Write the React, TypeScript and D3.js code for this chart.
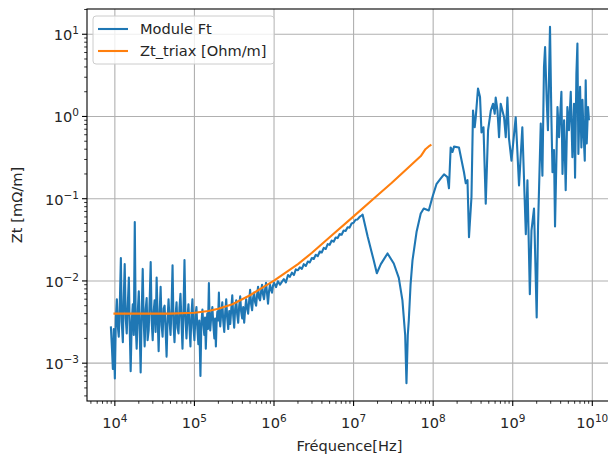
import React from 'react';
import * as d3 from 'd3';

// measured "Module Ft" trace: [frequency Hz, Zt]
const moduleFt: [number, number][] = [
  [8.91e3, 0.0028], [9.2e3, 0.0015], [9.44e3, 0.00085], [9.7e3, 0.0026], [9.85e3, 0.0012],
  [1.0e4, 0.00065], [1.03e4, 0.0035], [1.06e4, 0.006], [1.09e4, 0.0028], [1.12e4, 0.0021],
  [1.15e4, 0.0045], [1.19e4, 0.019], [1.22e4, 0.0032], [1.26e4, 0.0018], [1.29e4, 0.0055],
  [1.33e4, 0.016], [1.37e4, 0.0035], [1.41e4, 0.0023], [1.45e4, 0.0048], [1.5e4, 0.011],
  [1.54e4, 0.0025], [1.58e4, 0.0008], [1.63e4, 0.0032], [1.68e4, 0.0052], [1.73e4, 0.0022],
  [1.78e4, 0.052], [1.83e4, 0.0028], [1.88e4, 0.0015], [1.94e4, 0.0042], [2.0e4, 0.0075],
  [2.05e4, 0.0026], [2.11e4, 0.00077], [2.17e4, 0.0038], [2.24e4, 0.014], [2.3e4, 0.0034],
  [2.37e4, 0.0016], [2.44e4, 0.0045], [2.51e4, 0.0062], [2.58e4, 0.0019], [2.66e4, 0.0025],
  [2.74e4, 0.0058], [2.82e4, 0.017], [2.9e4, 0.0033], [2.99e4, 0.0019], [3.07e4, 0.0042],
  [3.16e4, 0.0058], [3.25e4, 0.0024], [3.35e4, 0.011], [3.45e4, 0.0036], [3.55e4, 0.0014],
  [3.65e4, 0.0039], [3.76e4, 0.0085], [3.87e4, 0.0029], [3.98e4, 0.0021], [4.1e4, 0.0046],
  [4.22e4, 0.005], [4.34e4, 0.0026], [4.47e4, 0.0012], [4.6e4, 0.0035], [4.73e4, 0.006],
  [4.87e4, 0.0032], [5.01e4, 0.0022], [5.16e4, 0.0048], [5.31e4, 0.0155], [5.46e4, 0.003],
  [5.62e4, 0.0018], [5.79e4, 0.0038], [5.96e4, 0.0055], [6.13e4, 0.0027], [6.31e4, 0.0023],
  [6.49e4, 0.0047], [6.68e4, 0.007], [6.88e4, 0.0031], [7.08e4, 0.0015], [7.29e4, 0.0044],
  [7.5e4, 0.018], [7.72e4, 0.0035], [7.94e4, 0.002], [8.17e4, 0.0036], [8.41e4, 0.0052],
  [8.66e4, 0.0028], [8.91e4, 0.0016], [9.17e4, 0.0039], [9.44e4, 0.006], [9.72e4, 0.0027],
  [1.0e5, 0.0019], [1.03e5, 0.0037], [1.06e5, 0.0048], [1.09e5, 0.0026], [1.12e5, 0.0017],
  [1.15e5, 0.0033], [1.19e5, 0.0007], [1.22e5, 0.0029], [1.26e5, 0.0045], [1.29e5, 0.0031],
  [1.33e5, 0.0022], [1.36e5, 0.0036], [1.39e5, 0.0015], [1.42e5, 0.0028], [1.45e5, 0.004],
  [1.48e5, 0.0026], [1.52e5, 0.0094], [1.55e5, 0.0034], [1.58e5, 0.0025], [1.63e5, 0.0038],
  [1.68e5, 0.0048], [1.73e5, 0.0029], [1.78e5, 0.002], [1.82e5, 0.0035], [1.86e5, 0.0016],
  [1.9e5, 0.0031], [1.94e5, 0.0042], [1.98e5, 0.0033], [2.03e5, 0.0072], [2.07e5, 0.0036],
  [2.11e5, 0.0028], [2.17e5, 0.004], [2.24e5, 0.0055], [2.3e5, 0.0033], [2.37e5, 0.0024],
  [2.44e5, 0.0042], [2.51e5, 0.006], [2.58e5, 0.0036], [2.66e5, 0.0026], [2.74e5, 0.0043],
  [2.82e5, 0.003], [2.9e5, 0.0045], [2.99e5, 0.0067], [3.07e5, 0.0038], [3.16e5, 0.0027],
  [3.25e5, 0.0046], [3.35e5, 0.0058], [3.45e5, 0.0039], [3.55e5, 0.0031], [3.65e5, 0.0049],
  [3.76e5, 0.0065], [3.87e5, 0.0042], [3.98e5, 0.0035], [4.1e5, 0.0048], [4.22e5, 0.0031],
  [4.34e5, 0.0045], [4.47e5, 0.006], [4.6e5, 0.0046], [4.73e5, 0.004], [4.87e5, 0.0057],
  [5.01e5, 0.0078], [5.16e5, 0.0052], [5.31e5, 0.0044], [5.46e5, 0.0062], [5.62e5, 0.0072],
  [5.79e5, 0.0055], [5.96e5, 0.005], [6.13e5, 0.0068], [6.31e5, 0.0085], [6.49e5, 0.0062],
  [6.68e5, 0.0058], [6.88e5, 0.0074], [7.08e5, 0.009], [7.29e5, 0.0068], [7.5e5, 0.006],
  [7.72e5, 0.0078], [7.94e5, 0.0095], [8.17e5, 0.0071], [8.41e5, 0.0053], [8.66e5, 0.0075],
  [8.91e5, 0.009], [9.17e5, 0.0078], [9.44e5, 0.0072], [9.72e5, 0.0088], [1.0e6, 0.0095],
  [1.06e6, 0.0084], [1.12e6, 0.0099], [1.19e6, 0.009], [1.26e6, 0.0098], [1.33e6, 0.0105],
  [1.41e6, 0.0096], [1.5e6, 0.0118], [1.58e6, 0.0112], [1.68e6, 0.0126], [1.78e6, 0.0118],
  [1.88e6, 0.0138], [2.0e6, 0.0135], [2.11e6, 0.0146], [2.24e6, 0.014], [2.37e6, 0.016],
  [2.51e6, 0.0152], [2.66e6, 0.0172], [2.82e6, 0.0168], [2.99e6, 0.019], [3.16e6, 0.0185],
  [3.35e6, 0.0208], [3.55e6, 0.02], [3.76e6, 0.0228], [3.98e6, 0.0222], [4.22e6, 0.0252],
  [4.47e6, 0.0245], [4.73e6, 0.028], [5.01e6, 0.0275], [5.31e6, 0.031], [5.62e6, 0.03],
  [5.96e6, 0.0338], [6.31e6, 0.0332], [6.68e6, 0.0372], [7.08e6, 0.0365], [7.5e6, 0.041],
  [7.94e6, 0.0405], [8.41e6, 0.045], [8.91e6, 0.0445], [9.44e6, 0.05], [1.0e7, 0.051],
  [1.06e7, 0.0555], [1.12e7, 0.056], [1.19e7, 0.06], [1.26e7, 0.0625], [1.3e7, 0.064],
  [1.5e7, 0.035], [1.79e7, 0.0178], [1.96e7, 0.0124], [2.2e7, 0.016],
  [2.67e7, 0.0216], [3.2e7, 0.0163], [3.7e7, 0.0109], [4.11e7, 0.0058], [4.45e7, 0.0022],
  [4.62e7, 0.00057], [4.8e7, 0.0022], [4.94e7, 0.0033], [5.2e7, 0.009], [5.5e7, 0.0178],
  [6.2e7, 0.04], [6.98e7, 0.066], [7.62e7, 0.076], [8.81e7, 0.072], [9.8e7, 0.105],
  [1.1e8, 0.15], [1.24e8, 0.175], [1.37e8, 0.198], [1.51e8, 0.183], [1.58e8, 0.134],
  [1.66e8, 0.42], [1.75e8, 0.37], [1.83e8, 0.43], [2.11e8, 0.42], [2.44e8, 0.21],
  [2.57e8, 0.154], [2.7e8, 0.168], [2.82e8, 0.034], [3.03e8, 0.105], [3.17e8, 1.18],
  [3.33e8, 0.74], [3.43e8, 0.98], [3.66e8, 2.19], [3.88e8, 1.73], [4.05e8, 0.64],
  [4.29e8, 0.74], [4.58e8, 0.087], [4.9e8, 0.68], [5.3e8, 1.18], [5.66e8, 1.43],
  [5.94e8, 1.08], [6.11e8, 1.7], [6.43e8, 1.18], [6.73e8, 0.56], [7.06e8, 1.43],
  [7.78e8, 0.98], [8.17e8, 0.56], [8.57e8, 1.7], [8.97e8, 0.54], [9.64e8, 0.29],
  [1.09e9, 0.98], [1.2e9, 0.145], [1.32e9, 0.74], [1.46e9, 0.037], [1.53e9, 0.168],
  [1.64e9, 0.0069], [1.72e9, 0.041], [1.85e9, 0.076], [1.89e9, 0.034], [2.0e9, 0.0036],
  [2.08e9, 0.046], [2.25e9, 0.82], [2.36e9, 0.19], [2.47e9, 4.0], [2.55e9, 7.0],
  [2.67e9, 1.6], [2.77e9, 0.68], [2.94e9, 12.3], [3.06e9, 0.98], [3.16e9, 0.21],
  [3.3e9, 0.39], [3.4e9, 0.046], [3.65e9, 1.3], [3.82e9, 0.56], [4.09e9, 2.0],
  [4.22e9, 0.2], [4.42e9, 0.9], [4.63e9, 0.127], [4.86e9, 1.3], [5.09e9, 0.68],
  [5.36e9, 2.0], [5.62e9, 0.32], [5.89e9, 1.43], [6.07e9, 0.18], [6.31e9, 3.3],
  [6.5e9, 7.7], [6.68e9, 0.35], [7.02e9, 2.3], [7.29e9, 0.42], [7.52e9, 1.6],
  [7.73e9, 0.68], [8.04e9, 0.29], [8.26e9, 2.75], [8.51e9, 0.47], [8.83e9, 1.3],
  [9.08e9, 0.9],
];

// triax reference curve: [frequency Hz, Zt]
const ztTriax: [number, number][] = [
  [9.6e3, 0.004], [2.0e4, 0.004], [5.0e4, 0.004], [1.0e5, 0.0041], [1.5e5, 0.0043],
  [2.0e5, 0.0046], [3.0e5, 0.0052], [5.0e5, 0.0067], [7.0e5, 0.0082], [1.0e6, 0.0101],
  [2.0e6, 0.016], [3.0e6, 0.022], [5.0e6, 0.034], [1.0e7, 0.061], [2.0e7, 0.11],
  [3.0e7, 0.155], [5.0e7, 0.245], [7.0e7, 0.33], [8.0e7, 0.4], [9.0e7, 0.44], [9.5e7, 0.455],
];

const xDecades = [4, 5, 6, 7, 8, 9, 10];
const yDecades = [-3, -2, -1, 0, 1];
const seriesNames = ['Module Ft', 'Zt_triax [Ohm/m]'];
const seriesColors = ['#1f77b4', '#ff7f0e'];

const L = 87, R = 613, T = 9, B = 401;
const FONT = 'DejaVu Sans, sans-serif';

function sup(e: number) {
  return e < 0 ? '\u2212' + Math.abs(e) : String(e);
}

export default function App() {
  const x = d3.scaleLog().domain([10 ** 3.65, 10 ** 10.26]).range([L, R]);
  const y = d3.scaleLog().domain([10 ** -3.46, 10 ** 1.307]).range([B, T]);
  const line = d3.line<[number, number]>().x(d => x(d[0])).y(d => y(d[1]));

  // log minor ticks (2..9 of each decade)
  const minors = (dom: number[]) => {
    const out: number[] = [];
    for (let e = Math.floor(Math.log10(dom[0])); e <= Math.ceil(Math.log10(dom[1])); e++) {
      for (let k = 2; k <= 9; k++) {
        const v = k * 10 ** e;
        if (v >= dom[0] && v <= dom[1]) out.push(v);
      }
    }
    return out;
  };
  const xMinor = minors(x.domain());
  const yMinor = minors(y.domain());

  return (
    <svg width={608} height={457} style={{ position: 'absolute', left: 0, top: 0, background: '#fff' }}
      fontFamily={FONT}>
      {/* grid */}
      {xDecades.map(e => (
        <line key={'gx' + e} x1={x(10 ** e)} x2={x(10 ** e)} y1={T} y2={B} stroke="#b0b0b0" strokeWidth={1.1} />
      ))}
      {yDecades.map(e => (
        <line key={'gy' + e} x1={L} x2={R} y1={y(10 ** e)} y2={y(10 ** e)} stroke="#b0b0b0" strokeWidth={1.1} />
      ))}

      {/* series */}
      <path d={line(moduleFt) || ''} fill="none" stroke={seriesColors[0]} strokeWidth={2.1} strokeLinejoin="round" />
      <path d={line(ztTriax) || ''} fill="none" stroke={seriesColors[1]} strokeWidth={2.1} strokeLinejoin="round" />

      {/* spines */}
      <rect x={L} y={T} width={R - L} height={B - T} fill="none" stroke="#000" strokeWidth={1.1} />

      {/* x ticks */}
      {xDecades.map(e => (
        <g key={'tx' + e}>
          <line x1={x(10 ** e)} x2={x(10 ** e)} y1={B} y2={B + 5} stroke="#000" strokeWidth={1.1} />
          <text x={x(10 ** e)} y={428} textAnchor="middle" fontSize={14.6} fill="#262626">
            10<tspan dy={-6} fontSize={10.5}>{sup(e)}</tspan>
          </text>
        </g>
      ))}
      {xMinor.map((v, i) => (
        <line key={'mx' + i} x1={x(v)} x2={x(v)} y1={B} y2={B + 2.8} stroke="#000" strokeWidth={0.8} />
      ))}

      {/* y ticks */}
      {yDecades.map(e => (
        <g key={'ty' + e}>
          <line x1={L - 5} x2={L} y1={y(10 ** e)} y2={y(10 ** e)} stroke="#000" strokeWidth={1.1} />
          <text x={79} y={y(10 ** e) + 6} textAnchor="end" fontSize={14.6} fill="#262626">
            10<tspan dy={-6} fontSize={10.5}>{sup(e)}</tspan>
          </text>
        </g>
      ))}
      {yMinor.map((v, i) => (
        <line key={'my' + i} x1={L - 2.8} x2={L} y1={y(v)} y2={y(v)} stroke="#000" strokeWidth={0.8} />
      ))}

      {/* axis labels */}
      <text x={(L + 613) / 2 - 0.5} y={451} textAnchor="middle" fontSize={14.6} fill="#262626">Fréquence[Hz]</text>
      <text transform={`translate(22,${(T + B) / 2}) rotate(-90)`} textAnchor="middle" fontSize={14.6} fill="#262626">
        Zt [mΩ/m]
      </text>

      {/* legend */}
      <rect x={93} y={16} width={181} height={48} rx={3} fill="#fff" fillOpacity={0.8} stroke="#cccccc" strokeWidth={1} />
      {seriesNames.map((name, i) => (
        <g key={name}>
          <line x1={98} x2={128} y1={29 + i * 22} y2={29 + i * 22} stroke={seriesColors[i]} strokeWidth={2.1} />
          <text x={140} y={34 + i * 22} fontSize={14.6} fill="#262626">{name}</text>
        </g>
      ))}
    </svg>
  );
}
